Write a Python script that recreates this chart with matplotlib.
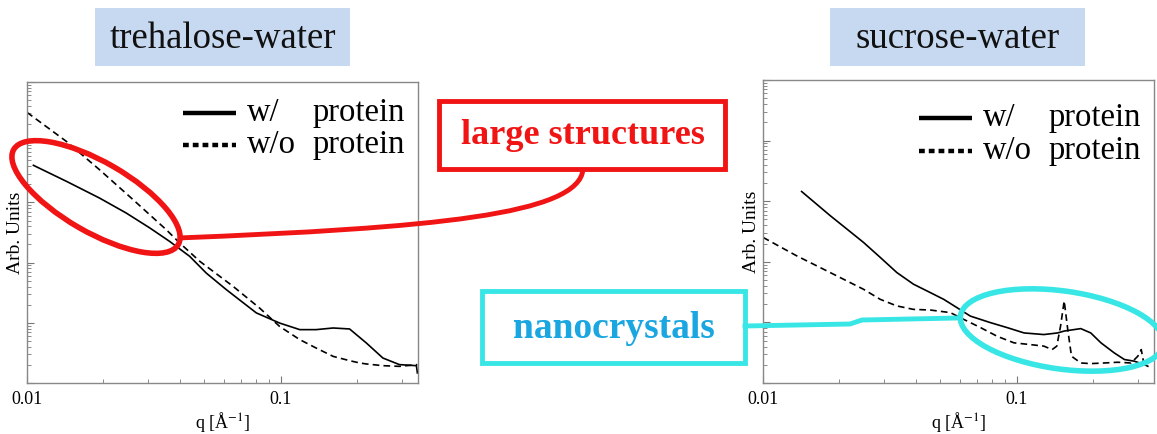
import matplotlib
matplotlib.use('agg')
import matplotlib.pyplot as plt
from matplotlib.patches import Ellipse, Rectangle, PathPatch
from matplotlib.path import Path
from matplotlib.ticker import FixedLocator, FixedFormatter, LogLocator, NullFormatter

plt.rcParams['font.family'] = ['Liberation Serif', 'DejaVu Serif']
plt.rcParams['mathtext.fontset'] = 'stix'

# trehalose-water, w/ protein
tre_q_with = [0.0106, 0.0143, 0.0193, 0.0246, 0.0305, 0.0365, 0.0438, 0.0509, 0.0611,
              0.0802, 0.0991, 0.119, 0.138, 0.161, 0.187, 0.218, 0.253, 0.294, 0.343, 0.346]
tre_i_with = [4130, 2240, 1183, 667, 376, 225, 127, 67, 35.5,
              14.6, 9.9, 7.7, 7.7, 8.2, 7.9, 4.6, 2.6, 2.02, 1.94, 1.47]
# trehalose-water, w/o protein
tre_q_without = [0.01, 0.0143, 0.0193, 0.0262, 0.0354, 0.040, 0.048, 0.0649, 0.0826, 0.0991,
                 0.119, 0.138, 0.161, 0.187, 0.205, 0.218, 0.253, 0.294, 0.346]
tre_i_without = [31300, 10300, 3500, 1110, 352, 212, 105, 40.4, 17.6, 8.7,
                 5.25, 3.81, 2.77, 2.35, 2.15, 2.07, 1.94, 1.89, 2.02]
# sucrose-water, w/ protein
suc_q_with = [0.0142, 0.0184, 0.0214, 0.0249, 0.029, 0.0337, 0.0392, 0.0457, 0.0516, 0.0582,
              0.0657, 0.0789, 0.0918, 0.107, 0.128, 0.145, 0.154, 0.179, 0.196, 0.215,
              0.2425, 0.266, 0.291, 0.319, 0.329]
suc_i_with = [1445, 578, 348, 209, 118, 66.5, 42.7, 31, 24, 17.5,
              12.7, 9.9, 8.2, 6.7, 6.3, 6.7, 7.2, 7.9, 6.7, 4.6,
              3.14, 2.44, 2.29, 2.01, 1.89]
# sucrose-water, w/o protein
suc_q_without = [0.01, 0.01355, 0.0184, 0.0249, 0.029, 0.0337, 0.0392, 0.0457, 0.0548, 0.0619,
                 0.0721, 0.0838, 0.0976, 0.1135, 0.128, 0.138, 0.144, 0.149, 0.154, 0.159,
                 0.1645, 0.179, 0.196, 0.222, 0.25, 0.2825, 0.3005, 0.31, 0.317, 0.329]
suc_i_without = [253, 126, 66.5, 35.2, 24, 18.7, 16.4, 16.0, 14.5, 11.2,
                 8.2, 5.9, 4.6, 4.3, 4.06, 3.56, 4.06, 8.7, 22.6, 7.7,
                 2.77, 2.14, 2.09, 2.14, 2.2, 2.14, 2.77, 3.56, 2.14, 1.94]

titles = ['trehalose-water', 'sucrose-water']
legend_with = 'w/'
legend_without = 'w/o'
legend_word = 'protein'

W, H = 1157, 434
fig = plt.figure(figsize=(W / 100, H / 100), dpi=100)

panels = [
    ([27, 82, 418, 383], tre_q_with, tre_i_with, tre_q_without, tre_i_without),
    ([763, 80, 1154, 383], suc_q_with, suc_i_with, suc_q_without, suc_i_without),
]
leg_rows = [(0.897, 0.791), (0.875, 0.766)]

for k, (box, qw, iw, qo, io) in enumerate(panels):
    x0, y0, x1, y1 = box
    ax = fig.add_axes([x0 / W, 1 - y1 / H, (x1 - x0) / W, (y1 - y0) / H])
    ax.plot(qw, iw, color='black', lw=1.2)
    ax.plot(qo, io, color='black', lw=1.2, dashes=(4, 2.5))
    ax.set_xscale('log')
    ax.set_yscale('log')
    ax.set_xlim(0.01, 0.348)
    ax.set_ylim(1, 1e5)
    ax.xaxis.set_major_locator(FixedLocator([0.01, 0.1]))
    ax.xaxis.set_major_formatter(FixedFormatter(['0.01', '0.1']))
    ax.xaxis.set_minor_locator(LogLocator(subs=range(2, 10)))
    ax.xaxis.set_minor_formatter(NullFormatter())
    ax.yaxis.set_major_locator(LogLocator(numticks=10))
    ax.yaxis.set_minor_locator(LogLocator(subs=range(2, 10), numticks=20))
    ax.yaxis.set_major_formatter(NullFormatter())
    ax.yaxis.set_minor_formatter(NullFormatter())
    ax.tick_params(which='both', direction='in', color='#777777', top=False, right=False)
    ax.tick_params(which='major', length=5, width=0.8, labelsize=13, pad=6)
    ax.tick_params(which='minor', length=3, width=0.6)
    for s in ax.spines.values():
        s.set_color('#888888')
        s.set_linewidth(1.0)
    ax.set_xlabel('q [Å$^{-1}$]', fontsize=13)
    ax.xaxis.set_label_coords(0.5, -0.09)
    ax.set_ylabel('Arb. Units', fontsize=14)
    ax.yaxis.set_label_coords(-0.008, 0.5)

    # legend keys
    r1, r2 = leg_rows[k]
    ax.plot([0.398, 0.535], [r1, r1], transform=ax.transAxes, color='black', lw=3.2,
            solid_capstyle='butt')
    ax.plot([0.398, 0.535], [r2, r2], transform=ax.transAxes, color='black', lw=3.2,
            dashes=(1.3, 0.9))
    for r, lab in [(r1, legend_with), (r2, legend_without)]:
        ax.text(0.563, r, lab, transform=ax.transAxes, fontsize=23.5, va='center', ha='left')
        ax.text(0.73, r, legend_word, transform=ax.transAxes, fontsize=23.5, va='center', ha='left')

# overlay in pixel coordinates for the annotations
ov = fig.add_axes([0, 0, 1, 1], zorder=10)
ov.set_xlim(0, W)
ov.set_ylim(H, 0)
ov.axis('off')
ov.patch.set_alpha(0)

# title boxes
for (bx0, bx1), t in zip([(95, 350), (830, 1085)], titles):
    ov.add_patch(Rectangle((bx0, 8), bx1 - bx0, 58, facecolor='#c6d9f0', edgecolor='none'))
    ov.text((bx0 + bx1) / 2, 39, t, fontsize=26.5, ha='center', va='center', color='#111111')

red = '#f01414'
cyan = '#38e6e6'

# large structures
ov.add_patch(Rectangle((439, 101), 286, 68, facecolor='white', edgecolor=red, lw=3.5))
ov.text(583, 136, 'large structures', fontsize=26, fontweight='bold', color=red,
        ha='center', va='center')
ov.add_patch(Ellipse((96, 197), 190, 70, angle=30, facecolor='none', edgecolor=red, lw=4))
red_path = Path([(178, 238), (430, 228), (580, 215), (583, 169)],
                [Path.MOVETO, Path.CURVE4, Path.CURVE4, Path.CURVE4])
ov.add_patch(PathPatch(red_path, facecolor='none', edgecolor=red, lw=3.5))

# nanocrystals
ov.add_patch(Rectangle((482, 291), 263, 72, facecolor='white', edgecolor=cyan, lw=3.5))
ov.text(614, 328, 'nanocrystals', fontsize=27, fontweight='bold', color='#1aa6e0',
        ha='center', va='center')
ov.add_patch(Ellipse((1062, 330), 205, 78, angle=8, facecolor='none', edgecolor=cyan, lw=4))
ov.plot([745, 850, 862, 958], [326, 324, 320, 318], color=cyan, lw=3.5)

fig.savefig('out.png', dpi=100)
